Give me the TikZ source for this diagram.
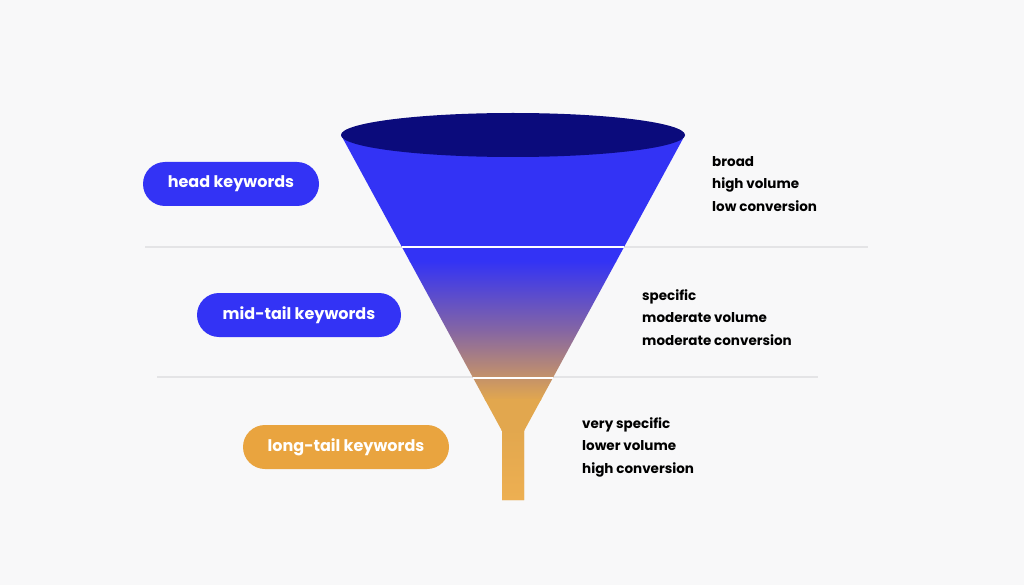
\documentclass[tikz,border=0pt]{standalone}
\usepackage{fontspec}
\setmainfont{Poppins}
\definecolor{bgc}{HTML}{F8F8F9}
\definecolor{kwblue}{HTML}{3333F5}
\definecolor{kwnavy}{HTML}{0B0B7C}
\definecolor{kworange}{HTML}{E9A43F}
\definecolor{stemorange}{HTML}{EEB052}
\definecolor{sepgray}{HTML}{E4E4E6}
\begin{document}
\begin{tikzpicture}[x=1pt,y=-1pt,
  pill/.style={rounded corners=22pt, minimum height=44pt, inner sep=0pt, text=white, font=\fontsize{16}{18}\selectfont\bfseries},
  note/.style={anchor=north west, align=left, inner sep=0pt, font=\fontsize{13.5}{22.5}\selectfont\bfseries},
]
\fill[bgc] (0,0) rectangle (1024,585);
\useasboundingbox (0,0) rectangle (1024,585);
% separators
\draw[sepgray, line width=1.5pt] (145,247) -- (868,247);
\draw[sepgray, line width=1.5pt] (157,377) -- (818,377);
% funnel
\coordinate (tl) at (341,135);
\coordinate (tr) at (685,135);
\coordinate (nl) at (502,431);
\coordinate (nr) at (524,431);
\coordinate (bl) at (502,500);
\coordinate (br) at (524,500);
\begin{scope}
  \clip (tl) -- (nl) -- (bl) -- (br) -- (nr) -- (tr) -- cycle;
  \fill[kwblue] (330,130) rectangle (700,262);
  \shade[top color=kwblue, bottom color=stemorange!95!black, middle color=kwblue!55!kworange] (330,261) rectangle (700,400);
  \fill[stemorange!95!black] (330,399) rectangle (700,505);
  \shade[top color=stemorange!95!black, bottom color=stemorange] (330,430) rectangle (700,505);
\end{scope}
\fill[kwnavy] (513,135) ellipse [x radius=172, y radius=22];
\draw[white, line width=2pt] (402,247) -- (624,247);
\draw[white, line width=2pt] (473,378) -- (553,378);
% labels
\node[pill, fill=kwblue, minimum width=176pt] (head) at (231,184) {head keywords};
\node[pill, fill=kwblue, minimum width=204pt] (mid) at (299,315) {mid-tail keywords};
\node[pill, fill=kworange, minimum width=206pt] (long) at (346,447) {long-tail keywords};
\node[note] (headnote) at (712,156) {broad\\high volume\\low conversion};
\node[note] (midnote) at (642,289) {specific\\moderate volume\\moderate conversion};
\node[note] (longnote) at (582,417) {very specific\\lower volume\\high conversion};
\end{tikzpicture}
\end{document}
